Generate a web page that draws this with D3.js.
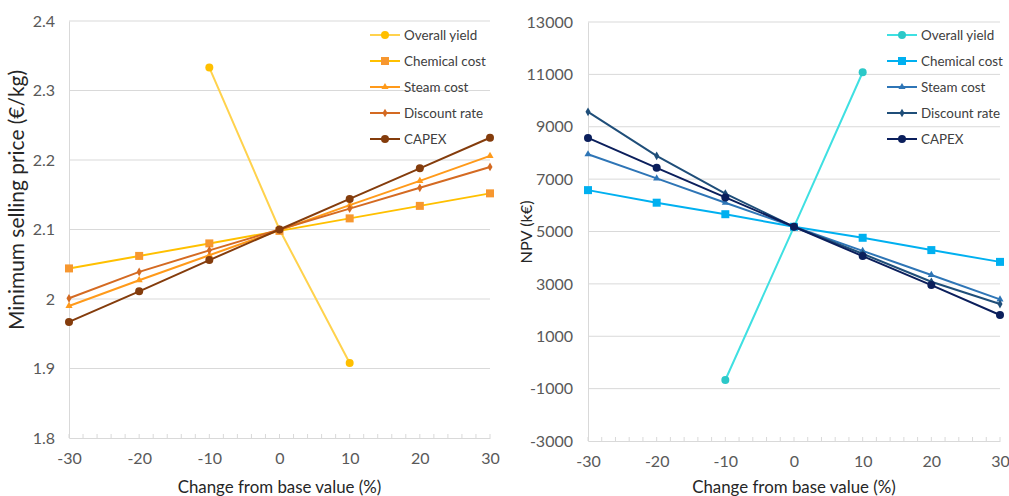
<!DOCTYPE html>
<html><head><meta charset="utf-8">
<script src="https://cdn.jsdelivr.net/npm/d3@7"></script>
<style>body{margin:0;background:#fff;font-family:Lato,"Liberation Sans",sans-serif;}</style>
</head><body>
<svg id="c" width="1009" height="496"></svg>
<script>
const xValues = [-30, -20, -10, 0, 10, 20, 30];
const xYieldValues = [-10, 0, 10];
const seriesNames = ["Overall yield", "Chemical cost", "Steam cost", "Discount rate", "CAPEX"];
const markerShapes = ["circle", "square", "triangle", "diamond", "circle"];

// Left chart: Minimum selling price (€/kg)
const msYield = [2.333, 2.1, 1.908];
const msChemical = [2.044, 2.062, 2.080, 2.098, 2.116, 2.134, 2.152];
const msSteam = [1.990, 2.027, 2.063, 2.099, 2.135, 2.170, 2.206];
const msDiscount = [2.001, 2.039, 2.070, 2.100, 2.130, 2.160, 2.190];
const msCapex = [1.967, 2.011, 2.056, 2.100, 2.144, 2.188, 2.232];
const msTicks = [1.8, 1.9, 2.0, 2.1, 2.2, 2.3, 2.4];
const msTickLabels = ["1.8", "1.9", "2", "2.1", "2.2", "2.3", "2.4"];

// Right chart: NPV (k€)
const npvYield = [-670, 5180, 11080];
const npvChemical = [6580, 6100, 5660, 5180, 4760, 4290, 3840];
const npvSteam = [7950, 7030, 6100, 5180, 4260, 3340, 2410];
const npvDiscount = [9570, 7890, 6450, 5180, 4150, 3080, 2230];
const npvCapex = [8575, 7430, 6300, 5180, 4060, 2955, 1810];
const npvTicks = [-3000, -1000, 1000, 3000, 5000, 7000, 9000, 11000, 13000];

const xTicks = [-30, -20, -10, 0, 10, 20, 30];

const leftColors = {line: ["#FFD24D", "#FFC000", "#FF9A1A", "#D46A22", "#843C0C"],
                    marker: ["#FFBF00", "#F7972F", "#FF9A1A", "#D46A22", "#843C0C"]};
const rightColors = {line: ["#3FE0E2", "#00B0F0", "#2E75B6", "#1F4E79", "#0B1F5C"],
                     marker: ["#2CC8C8", "#00B0F0", "#2E75B6", "#1F4E79", "#0B1F5C"]};

const svg = d3.select("#c");
const FONT = "Lato, 'Liberation Sans', sans-serif";

function fit(text, width) {
  text.style("font-size", "20px");
  const w = text.node().getComputedTextLength();
  text.style("font-size", (20 * width / w).toFixed(2) + "px");
}

function marker(g, shape, x, y, color) {
  if (shape === "circle") g.append("circle").attr("cx", x).attr("cy", y).attr("r", 4).attr("fill", color);
  else if (shape === "square") g.append("rect").attr("x", x - 4).attr("y", y - 4).attr("width", 8).attr("height", 8).attr("fill", color);
  else if (shape === "triangle") g.append("path").attr("d", d3.symbol(d3.symbolTriangle, 22)()).attr("transform", `translate(${x},${y})`).attr("fill", color);
  else if (shape === "diamond") g.append("path").attr("d", d3.symbol(d3.symbolDiamond, 22)()).attr("transform", `translate(${x},${y})`).attr("fill", color);
}

function drawChart(opt) {
  const x = d3.scaleLinear().domain([-30, 30]).range([opt.x0, opt.x1]);
  const y = d3.scaleLinear().domain(opt.yDomain).range([opt.y0, opt.y1]);
  const g = svg.append("g").style("font-family", FONT);

  g.selectAll(".grid").data(opt.yTicks.slice(1)).enter().append("line")
    .attr("x1", opt.x0).attr("x2", opt.x1)
    .attr("y1", d => y(d)).attr("y2", d => y(d))
    .attr("stroke", "#D9D9D9").attr("stroke-width", 1);

  const ya = g.append("g").attr("transform", `translate(${opt.x0},0)`)
    .call(d3.axisLeft(y).tickValues(opt.yTicks).tickSize(0).tickPadding(opt.yPad).tickFormat((d, i) => opt.yLabels[i]));
  ya.select(".domain").attr("stroke", "#D9D9D9");
  ya.selectAll("text").attr("fill", "#595959").style("font-size", "16px").style("font-family", FONT);

  const xa = g.append("g").attr("transform", `translate(0,${opt.y0})`)
    .call(d3.axisBottom(x).tickValues(xTicks).tickSize(0).tickPadding(15).tickFormat(d => String(d)));
  xa.select(".domain").attr("stroke", "#D9D9D9");
  xa.selectAll("text").attr("fill", "#595959").style("font-size", "16px").style("font-family", FONT);
  g.selectAll(".mt").data(d3.range(-30, 31, 2)).enter().append("line")
    .attr("x1", d => x(d)).attr("x2", d => x(d))
    .attr("y1", opt.y0).attr("y2", opt.y0 - 4)
    .attr("stroke", "#D9D9D9");

  const xt = g.append("text").attr("x", (opt.x0 + opt.x1) / 2).attr("y", 493).attr("text-anchor", "middle")
    .attr("fill", "#262626").text("Change from base value (%)");
  fit(xt, 204);
  const yt = g.append("text").attr("transform", `translate(${opt.titleX},${opt.titleY}) rotate(-90)`)
    .attr("text-anchor", "middle").attr("fill", "#262626").text(opt.yTitle);
  fit(yt, opt.titleW);

  const line = d3.line().x(d => x(d[0])).y(d => y(d[1]));
  opt.series.forEach((s, i) => {
    const xs = i === 0 ? xYieldValues : xValues;
    const pts = xs.map((xv, j) => [xv, s[j]]);
    const sg = g.append("g");
    sg.append("path").attr("d", line(pts)).attr("fill", "none").attr("stroke", opt.colors.line[i]).attr("stroke-width", 2);
    pts.forEach((p, j) => {
      if (i === 0 && xs[j] === 0) return;
      marker(sg, markerShapes[i], x(p[0]), y(p[1]), opt.colors.marker[i]);
    });
  });

  const lg = g.append("g");
  seriesNames.forEach((n, i) => {
    const ly = 35 + i * 26;
    lg.append("line").attr("x1", opt.legX).attr("x2", opt.legX + 30).attr("y1", ly).attr("y2", ly)
      .attr("stroke", opt.colors.line[i]).attr("stroke-width", 2);
    marker(lg, markerShapes[i], opt.legX + 15, ly, opt.colors.marker[i]);
    lg.append("text").attr("x", opt.legX + 34).attr("y", ly + 5).attr("fill", "#404040")
      .style("font-size", "13.4px").text(n);
  });
}

drawChart({
  x0: 69, x1: 490, y0: 438, y1: 21,
  yDomain: [1.8, 2.4], yTicks: msTicks, yLabels: msTickLabels, yPad: 14,
  yTitle: "Minimum selling price (€/kg)", titleX: 24, titleY: 200, titleW: 260,
  series: [msYield, msChemical, msSteam, msDiscount, msCapex],
  colors: leftColors, legX: 370
});
drawChart({
  x0: 588, x1: 1000, y0: 441, y1: 22,
  yDomain: [-3000, 13000], yTicks: npvTicks, yLabels: npvTicks.map(String), yPad: 15,
  yTitle: "NPV (k€)", titleX: 532, titleY: 232, titleW: 63,
  series: [npvYield, npvChemical, npvSteam, npvDiscount, npvCapex],
  colors: rightColors, legX: 887
});
</script>
</body></html>
